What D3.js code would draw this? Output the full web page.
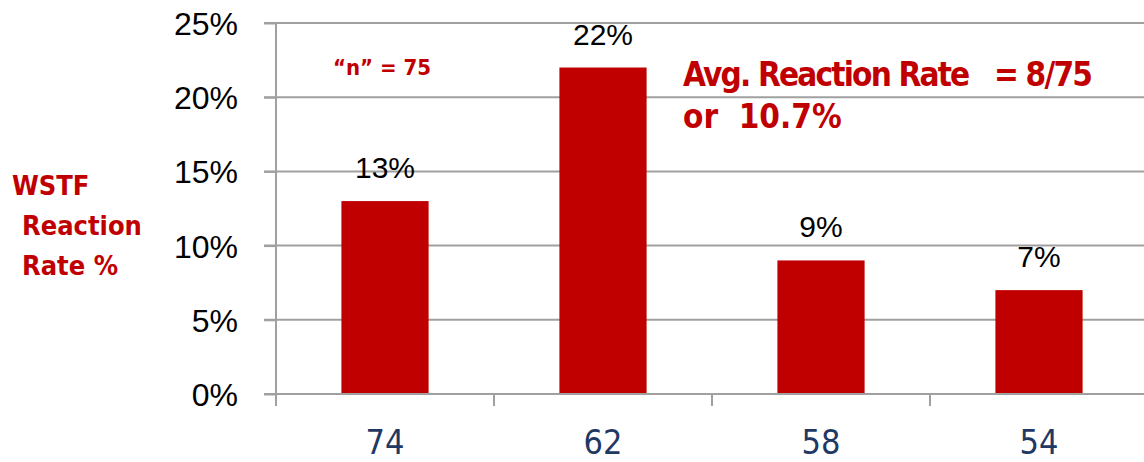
<!DOCTYPE html>
<html><head><meta charset="utf-8">
<script src="https://cdn.jsdelivr.net/npm/d3@7"></script>
<style>
html,body{margin:0;padding:0;background:#fff;}
svg{display:block;}
</style></head>
<body>
<svg id="c" width="1144" height="462"></svg>
<script>
const categories = ["74", "62", "58", "54"];
const values = [13, 22, 9, 7];
const yTicks = [0, 5, 10, 15, 20, 25];
const yTitle = ["WSTF", "Reaction", "Rate %"];
const noteN = "\u201Cn\u201D = 75";
const noteAvg = ["Avg. Reaction Rate \u00A0 = 8/75", "or \u00A010.7%"];

const red = "#C00000";
const gridColor = "#a0a0a0";
const narrow = "'Liberation Sans Narrow','DejaVu Sans Condensed','Liberation Sans',sans-serif";
const sans = "'Liberation Sans','DejaVu Sans',sans-serif";

const svg = d3.select("#c");
const x = d3.scaleBand().domain(categories).range([276, 1148]).paddingInner(0.6).paddingOuter(0.3);
const y = d3.scaleLinear().domain([0, 25]).range([394, 23]);

// gridlines
svg.append("g").selectAll("line").data(yTicks.filter(d => d > 0)).join("line")
  .attr("x1", 264).attr("x2", 1144)
  .attr("y1", d => y(d)).attr("y2", d => y(d))
  .attr("stroke", gridColor).attr("stroke-width", 2);

// bars
svg.append("g").selectAll("rect").data(values).join("rect")
  .attr("x", (d, i) => x(categories[i]))
  .attr("y", d => y(d))
  .attr("width", x.bandwidth())
  .attr("height", d => y(0) - y(d))
  .attr("fill", red);

// y axis
const ya = svg.append("g").attr("transform", "translate(276,0)")
  .call(d3.axisLeft(y).tickValues(yTicks).tickFormat(d => d + "%").tickSize(12).tickPadding(26));
ya.select(".domain").remove();
ya.append("line").attr("x1", 0).attr("x2", 0).attr("y1", y(25)).attr("y2", 406)
  .attr("stroke", gridColor).attr("stroke-width", 2);
ya.selectAll(".tick line").attr("stroke", gridColor).attr("stroke-width", 2);
ya.selectAll(".tick text").attr("fill", "#000").style("font-family", sans).style("font-size", "32px")
  .attr("dy", "0.36em");

// x axis
const xa = svg.append("g").attr("transform", `translate(0,${y(0)})`)
  .call(d3.axisBottom(x).tickSize(0).tickPadding(45));
xa.select(".domain").remove();
xa.append("line").attr("x1", 264).attr("x2", 1144).attr("y1", 0).attr("y2", 0)
  .attr("stroke", gridColor).attr("stroke-width", 2);
const bounds = categories.map(c => x(c) - x.step() * x.paddingInner() / 2);
xa.selectAll(".sep").data(bounds).join("line").attr("class", "sep")
  .attr("x1", d => d).attr("x2", d => d).attr("y1", 0).attr("y2", 12)
  .attr("stroke", gridColor).attr("stroke-width", 2);
xa.selectAll(".tick text").attr("fill", "#1F3864").style("font-family", narrow).style("font-size", "34px")
  .attr("dy", "0.45em");

// data labels
svg.append("g").selectAll("text").data(values).join("text")
  .attr("x", (d, i) => x(categories[i]) + x.bandwidth() / 2)
  .attr("y", d => y(d) - 23)
  .attr("text-anchor", "middle")
  .style("font-family", sans).style("font-size", "30px").attr("fill", "#000")
  .text(d => d + "%");

// y title
svg.append("g").selectAll("text").data(yTitle).join("text")
  .attr("x", (d, i) => i === 0 ? 12 : 22)
  .attr("y", (d, i) => 195 + i * 40)
  .style("font-family", narrow).style("font-weight", "bold").style("font-size", "27px")
  .attr("fill", red).text(d => d);

// notes
svg.append("text").attr("x", 333).attr("y", 75)
  .style("font-family", narrow).style("font-weight", "bold").style("font-size", "22px")
  .attr("fill", red).text(noteN);
svg.append("g").selectAll("text").data(noteAvg).join("text")
  .attr("x", 683).attr("y", (d, i) => 86 + i * 42)
  .style("font-family", narrow).style("font-weight", "bold").style("font-size", "33px")
  .attr("fill", red)
  .each(function (d, i) { if (i === 0) d3.select(this).attr("textLength", 410).attr("lengthAdjust", "spacing"); })
  .text(d => d);
</script>
</body></html>
